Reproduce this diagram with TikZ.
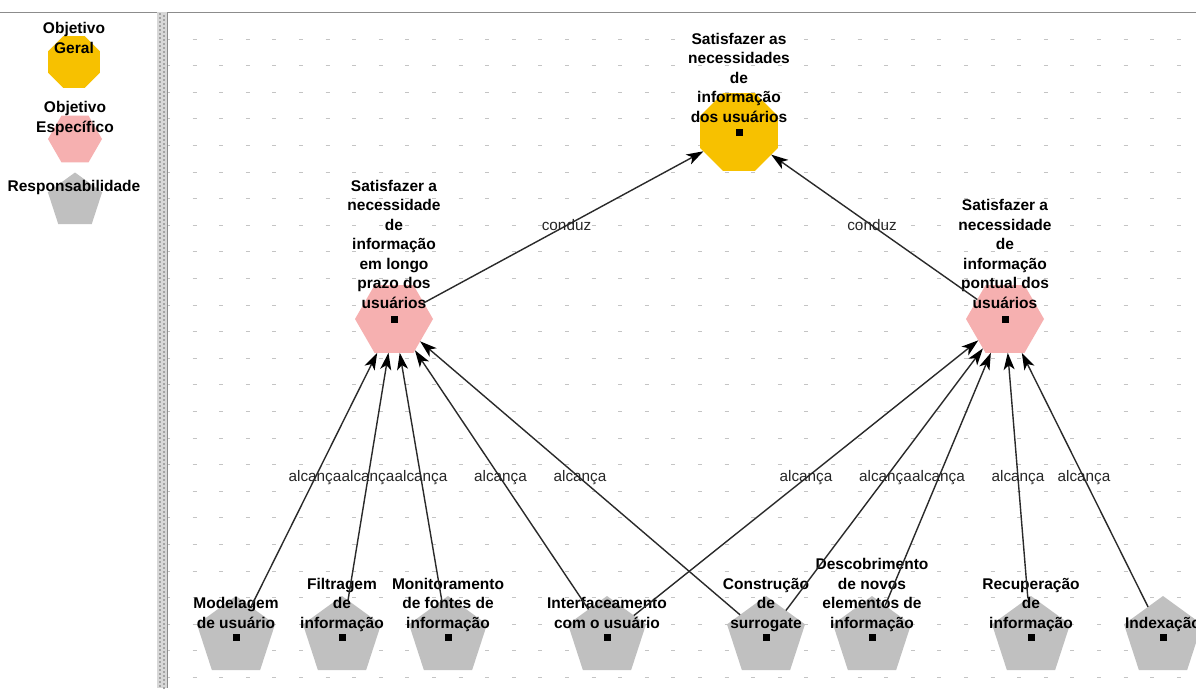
\documentclass[tikz,border=0pt]{standalone}
\usepackage{fontspec}
\setmainfont{Liberation Sans}
\usetikzlibrary{shapes.geometric,arrows.meta,calc}

\definecolor{geral}{HTML}{F7C100}
\definecolor{especifico}{HTML}{F6B0B0}
\definecolor{resp}{HTML}{C0C0C0}
\definecolor{edgecol}{HTML}{2A2A2A}
\definecolor{gridcol}{HTML}{C4C4C4}
\definecolor{barfill}{HTML}{D8D8D8}
\definecolor{bardot}{HTML}{A4A4A4}
\definecolor{frame}{HTML}{8C8C8C}

% multi-line caption whose baseline is the last line
\newcommand\ntxt[1]{\begin{tabular}[b]{@{}c@{}}#1\end{tabular}}

\tikzset{
  octa/.style={regular polygon, regular polygon sides=8, fill=geral, draw=none,
    inner sep=0pt, outer sep=0pt, minimum size=#1},
  hexa/.style={regular polygon, regular polygon sides=6, fill=especifico, draw=none,
    inner sep=0pt, outer sep=0pt, minimum size=#1},
  penta/.style={regular polygon, regular polygon sides=5, fill=resp, draw=none,
    inner sep=0pt, outer sep=0pt, minimum size=#1},
  sq/.style={rectangle, fill=black, inner sep=0pt, minimum size=7pt},
  ctext/.style={font=\fontsize{15.5}{19.5}\selectfont\bfseries, inner sep=0pt, anchor=base, text=black},
  edge/.style={draw=edgecol, line width=1.4pt,
    -{Stealth[length=17pt,width=11pt,inset=4.5pt,black]}},
  elbl/.style={font=\fontsize{15.3}{17}\selectfont, inner sep=0pt, text=black!85},
}

\begin{document}
\begin{tikzpicture}[x=1pt, y=-1pt]
  \useasboundingbox (0,0) rectangle (1196,688);
  \clip (0,0) rectangle (1196,688);
  \fill[white] (0,0) rectangle (1196,688);

  % canvas grid
  \foreach \i in {0,...,38}
    \foreach \j in {0,...,25}
      \draw[gridcol, line width=0.9pt] ({166+26.6*\i},{12.5+26.6*\j}) -- ++(4,0);

  % frame line and splitter bar
  \draw[frame, line width=1pt] (0,12) -- (1196,12);
  \fill[barfill] (157,12) rectangle (167,688);
  \foreach \k in {0,...,168} {
    \fill[bardot] (158.5,{13+4*\k}) rectangle ++(2,2);
    \fill[bardot] (162.5,{15+4*\k}) rectangle ++(2,2);
  }
  \draw[frame, line width=1pt] (167.5,12) -- (167.5,688);

  % legend
  \node[octa=56pt] (lgG) at (74,62) {};
  \node[hexa=54pt] (lgE) at (75,139) {};
  \node[penta=57pt] (lgR) at (75,201) {};
  \node[ctext] (lgGt) at (74,53) {\ntxt{Objetivo\\Geral}};
  \node[ctext] (lgEt) at (75,132) {\ntxt{Objetivo\\Específico}};
  \node[ctext] (lgRt) at (74,191) {\ntxt{Responsabilidade}};

  % goals
  \node[octa=84pt] (T) at (739,132) {};
  \node[hexa=78pt] (L) at (394,319) {};
  \node[hexa=78pt] (R) at (1005,319) {};

  % responsibilities
  \foreach \n/\x in {P1/236, P2/342, P3/448, P4/607, P5/766, P6/872, P7/1031, P8/1163}
    \node[penta=82pt] (\n) at (\x,637) {};

  % centre markers
  \foreach \n in {T, L, R, P1, P2, P3, P4, P5, P6, P7, P8}
    \node[sq] (\n-m) at (\n) {};

  % captions
  \node[ctext] (Tt) at (739,122) {\ntxt{Satisfazer as\\necessidades\\de\\informação\\dos usuários}};
  \node[ctext] (Lt) at (394,308) {\ntxt{Satisfazer a\\necessidade\\de\\informação\\em longo\\prazo dos\\usuários}};
  \node[ctext] (Rt) at (1005,308) {\ntxt{Satisfazer a\\necessidade\\de\\informação\\pontual dos\\usuários}};
  \node[ctext] (P1t) at (236,628) {\ntxt{Modelagem\\de usuário}};
  \node[ctext] (P2t) at (342,628) {\ntxt{Filtragem\\de\\informação}};
  \node[ctext] (P3t) at (448,628) {\ntxt{Monitoramento\\de fontes de\\informação}};
  \node[ctext] (P4t) at (607,628) {\ntxt{Interfaceamento\\com o usuário}};
  \node[ctext] (P5t) at (766,628) {\ntxt{Construção\\de\\surrogate}};
  \node[ctext] (P6t) at (872,628) {\ntxt{Descobrimento\\de novos\\elementos de\\informação}};
  \node[ctext] (P7t) at (1031,628) {\ntxt{Recuperação\\de\\informação}};
  \node[ctext] (P8t) at (1163,628) {\ntxt{Indexação}};

  % relations
  \draw[edge] (L) -- (T);
  \draw[edge] (R) -- (T);
  \foreach \a in {P1, P2, P3, P4, P5}
    \draw[edge] (\a) -- (L);
  \foreach \a in {P4, P5, P6, P7, P8}
    \draw[edge] (\a) -- (R);

  % relation labels
  \path (L.center) -- node[elbl] {conduz} (T.center);
  \path (R.center) -- node[elbl] {conduz} (T.center);
  \foreach \a in {P1, P2, P3, P4, P5}
    \path (\a.center) -- node[elbl] {alcança} (L.center);
  \foreach \a in {P4, P5, P6, P7, P8}
    \path (\a.center) -- node[elbl] {alcança} (R.center);
\end{tikzpicture}
\end{document}
